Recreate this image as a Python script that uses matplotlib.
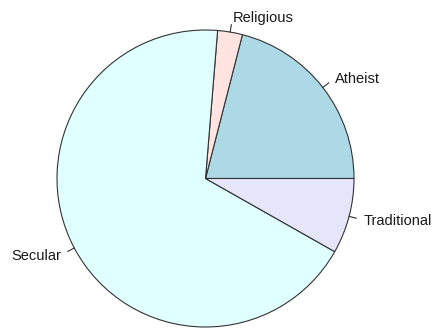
import numpy as np
import matplotlib
matplotlib.use("Agg")
import matplotlib.pyplot as plt

labels = ["Atheist", "Religious", "Secular", "Traditional"]
values = [21.0, 2.7, 68.1, 8.2]
colors = ["#ADD8E6", "#FFE4E1", "#E0FFFF", "#E6E6FA"]

W, H = 435, 331
fig = plt.figure(figsize=(W / 100, H / 100), dpi=100)
ax = fig.add_axes([0, 0, 1, 1])

cx, cy, r = 205.5, 152.5, 148.5
wedges, _ = ax.pie(values, colors=colors, startangle=0, counterclock=True,
                   center=(cx, cy), radius=r, frame=True,
                   wedgeprops=dict(edgecolor="#333333", linewidth=0.8))
ax.set_xlim(0, W)
ax.set_ylim(0, H)
ax.set_aspect("equal")
ax.axis("off")

for w, lab in zip(wedges, labels):
    mid = np.deg2rad((w.theta1 + w.theta2) / 2)
    c, s = np.cos(mid), np.sin(mid)
    ax.plot([cx + r * c, cx + 1.05 * r * c], [cy + r * s, cy + 1.05 * r * s],
            color="#333333", lw=0.8)
    ax.text(cx + 1.1 * r * c, cy + 1.1 * r * s - 1, lab,
            ha="left" if c > 0 else "right", va="center",
            fontsize=10.5, family="Liberation Sans", color="#1a1a1a")

fig.savefig("out.png", dpi=100)
